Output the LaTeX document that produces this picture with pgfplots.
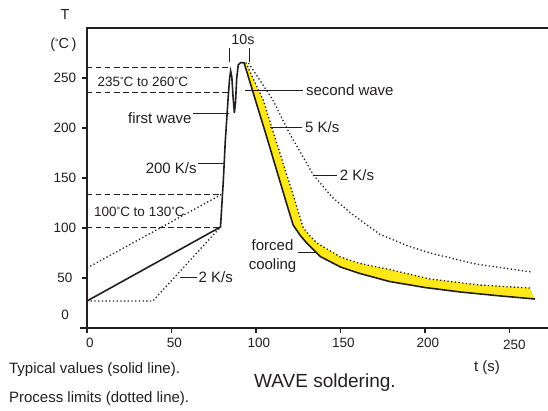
\documentclass[border=0pt]{standalone}
\usepackage{fontspec}
\setmainfont{Liberation Sans}
\usepackage{pgfplots}
\pgfplotsset{compat=1.18}
\definecolor{ink}{HTML}{231F20}
\definecolor{band}{HTML}{FFE817}
\newcommand\dg{\raisebox{3pt}{\fontsize{9}{9}\selectfont °}}
\tikzset{
  dotl/.style={ink, line width=1.3pt, dash pattern=on 1.3pt off 2.4pt},
  dashl/.style={ink, line width=0.9pt, dash pattern=on 5.5pt off 3.5pt},
  lead/.style={ink, line width=1pt},
  lbl/.style={text=ink, font=\fontsize{15}{17}\selectfont, inner sep=0pt},
  sml/.style={text=ink, font=\fontsize{13.5}{16}\selectfont, inner sep=0pt},
}
\begin{document}
\begin{tikzpicture}
\begin{axis}[
  at={(0,0)}, anchor=south west,
  scale only axis, width=461pt, height=300pt,
  xmin=0, xmax=272.8, ymin=0, ymax=300,
  axis line style={draw=none},
  xtick pos=left, ytick pos=left,
  xtick={0,50,100,150,200}, ytick={50,100,150,200,250},
  extra x ticks={250},
  tick align=outside, major tick length=5pt,
  tick style={ink, line width=1.5pt},
  ticklabel style={font=\fontsize{13.5}{16}\selectfont, text=ink},
  /pgf/number format/assume math mode=true,
  yticklabel style={anchor=center, xshift=-17pt},
  xticklabel style={xshift=3pt, yshift=-2pt},
  extra x tick style={tick style={ink, line width=1.5pt}, xticklabel style={xshift=2pt, yshift=-2pt}},
  clip=false,
]
% yellow band (forced cooling range)
\addplot[fill=band, draw=none] coordinates {
  (94,265.5)(99,247)(104.3,228)(110,197)(116,165)(122,133)(126,111)(128,100)
  (132,92)(136,85)(150,71)(161.5,64.5)(179,58.5)(203,49)(232,43)(262,40)
  (265,29)(245,32)(221,36)(200,40.5)(179,46.5)(161.5,54.5)(150,61)(138,71.5)
  (130,85)(126,93)(122,103)(118,125)(112,159)(106,193)(100,226)(93,265)
} -- cycle;

% dashed limit lines
\addplot[dashl] coordinates {(0,260.3)(83.5,260.3)};
\addplot[dashl] coordinates {(0,235.3)(83.5,235.3)};
\addplot[dashl] coordinates {(0,134)(80.2,134)};
\addplot[dashl] coordinates {(0,101)(79,101)};

% typical profile (solid)
\addplot[ink, line width=1.6pt] coordinates {
  (0,27)(79,101)(80.7,148)(81.8,186)(83.6,232)(84.4,250)(85,257)(85.7,251)
  (86.4,232)(87.2,215)(87.9,226)(88.6,250)(89.5,263)(91,265.5)(93,265)
  (100,226)(106,193)(112,159)(118,125)(122,103)(126,93)(130,85)(138,71.5)
  (150,61)(161.5,54.5)(179,46.5)(200,40.5)(221,36)(245,32)(265,29)
};

% process limits (dotted)
\addplot[dotl] coordinates {(0,27)(39,27)(79,101)};
\addplot[dotl] coordinates {(0,60)(80,134)};
\addplot[dotl] coordinates {
  (95.5,265)(103,246)(110,228)(120,194)(134,153)(145,131)(156,115)
  (173,94)(190,82)(203,75)(230,64)(263,56)
};
\addplot[dotl] coordinates {
  (94,265.5)(99,247)(104.3,228)(110,197)(116,165)(122,133)(126,111)(128,100)
  (132,92)(136,85)(150,71)(161.5,64.5)(179,58.5)(203,49)(232,43)(262,40)
};

% axis frame: left, bottom, top (no right side)
\draw[ink, line width=2pt] (rel axis cs:1,1) -- (rel axis cs:0,1) -- (rel axis cs:0,0);
\draw[ink, line width=2pt] (rel axis cs:1,0) -- (rel axis cs:0,0) -- ++(-7pt,0);
\node[text=ink, font=\fontsize{13.5}{16}\selectfont] at (axis cs:-13,13) {0};

% axis titles
\node[text=ink, font=\fontsize{14.5}{16}\selectfont] at (axis cs:-13,313) {T};
\node[text=ink, font=\fontsize{14.5}{16}\selectfont] at (axis cs:-14,283) {(\dg C\,)};
\node[text=ink, font=\fontsize{15}{17}\selectfont] at (axis cs:236.7,-40) {t (s)};

% annotations
\node[sml] at (axis cs:33,246) {235\dg C to 260\dg C};
\node[sml] at (axis cs:31,116) {100\dg C to 130\dg C};
\draw[lead] (axis cs:62.5,215) -- (axis cs:83.8,215);
\node[lbl, anchor=east] at (axis cs:62,210) {first wave};
\draw[lead] (axis cs:65.7,165) -- (axis cs:81.5,165);
\node[lbl, anchor=east] at (axis cs:65,160) {200 K/s};
\draw[lead] (axis cs:93.5,238) -- (axis cs:127.8,238);
\node[lbl, anchor=west] at (axis cs:129.5,238) {second wave};
\draw[lead] (axis cs:108,201) -- (axis cs:127.2,201);
\node[lbl, anchor=west] at (axis cs:129,201) {5 K/s};
\draw[lead] (axis cs:133.7,153) -- (axis cs:148,153);
\node[lbl, anchor=west] at (axis cs:149.5,153) {2 K/s};
\draw[lead] (axis cs:55,51) -- (axis cs:65,51);
\node[lbl, anchor=west] at (axis cs:66,51) {2 K/s};
\draw[lead] (axis cs:124.9,76) -- (axis cs:135.5,76);
\node[lbl, align=center] at (axis cs:109.8,72) {forced\\[2pt]cooling};
\draw[lead] (axis cs:84.3,266) -- (axis cs:84.3,280);
\draw[lead] (axis cs:96.2,266) -- (axis cs:96.2,280);
\node[text=ink, font=\fontsize{14.3}{16}\selectfont, inner sep=0pt] at (axis cs:92.3,288) {10s};

% footer
\node[lbl, anchor=west] at (axis cs:-46.2,-42) {Typical values (solid line).};
\node[lbl, anchor=west] at (axis cs:-46.2,-71) {Process limits (dotted line).};
\node[text=ink, font=\fontsize{19}{21}\selectfont] at (axis cs:140.8,-55) {WAVE soldering.};
\end{axis}
\pgfresetboundingbox
\path[use as bounding box] (-87pt,-82pt) rectangle (461pt,328pt);
\end{tikzpicture}
\end{document}
